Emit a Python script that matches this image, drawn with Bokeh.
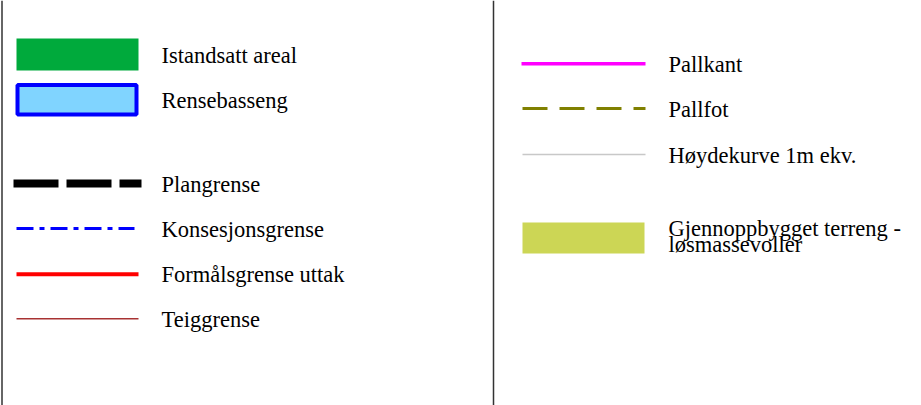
from bokeh.plotting import figure
from bokeh.models import Range1d
from bokeh.embed import file_html
from bokeh.resources import INLINE
from bokeh.core.properties import value

# ---- legend content ----
area_labels = ["Istandsatt areal", "Rensebasseng", "Gjennoppbygget terreng -\nløsmassevoller"]
line_labels_left = ["Plangrense", "Konsesjonsgrense", "Formålsgrense uttak", "Teiggrense"]
line_labels_right = ["Pallkant", "Pallfot", "Høydekurve 1m ekv."]

# ---- layout (reference pixel coordinates) ----
FONT = value("Liberation Serif")
FS = "22.5px"
W, H = 921, 405

p = figure(width=W, height=H, output_backend="svg", toolbar_location=None,
           x_range=Range1d(0, W), y_range=Range1d(H, 0),
           min_border=0, outline_line_color=None)
p.axis.visible = False
p.grid.visible = False
p.background_fill_color = "white"
p.border_fill_color = "white"

# frame lines
p.segment(x0=[1.5, 493], y0=[0, 0], x1=[1.5, 493], y1=[H, H],
          line_color="#333333", line_width=1.5)

# area swatches
p.quad(left=[16], right=[138], top=[38], bottom=[70], fill_color="#00AA3C", line_color=None)
p.quad(left=[17], right=[136], top=[84.5], bottom=[114], fill_color="#80D4FF",
       line_color="#0000FF", line_width=4)
p.quad(left=[522], right=[644], top=[222], bottom=[253], fill_color="#CCD655", line_color=None)

# line swatches left
p.segment(x0=[13], y0=[183], x1=[141], y1=[183], line_color="black", line_width=8, line_dash="45 8")
p.segment(x0=[16], y0=[228], x1=[134], y1=[228], line_color="#0000FF", line_width=3, line_dash="17 6 5 6")
p.segment(x0=[16], y0=[273.7], x1=[138], y1=[273.7], line_color="#FF0000", line_width=4)
p.segment(x0=[16], y0=[318.3], x1=[138], y1=[318.3], line_color="#A83232", line_width=1.5)

# line swatches right
p.segment(x0=[521], y0=[63.3], x1=[645], y1=[63.3], line_color="#FF00FF", line_width=3.5)
p.segment(x0=[522], y0=[108], x1=[645], y1=[108], line_color="#808000", line_width=3, line_dash="25 12")
p.segment(x0=[522], y0=[154], x1=[645], y1=[154], line_color="#C8C8C8", line_width=1.5)

# labels
left_texts = [area_labels[0], area_labels[1]] + line_labels_left
left_y = [55, 100, 184, 229, 274, 319]
p.text(x=[161] * len(left_texts), y=left_y, text=left_texts, text_font=FONT,
       text_font_size=FS, text_color="black", text_baseline="alphabetic")

right_texts = line_labels_right
right_y = [64, 109, 155]
p.text(x=[668] * len(right_texts), y=right_y, text=right_texts, text_font=FONT,
       text_font_size=FS, text_color="black", text_baseline="alphabetic")

two = area_labels[2].split("\n")
p.text(x=[668, 668], y=[228, 244], text=two, text_font=FONT,
       text_font_size=FS, text_color="black", text_baseline="alphabetic")

open("out.html", "w").write(file_html(p, INLINE))
